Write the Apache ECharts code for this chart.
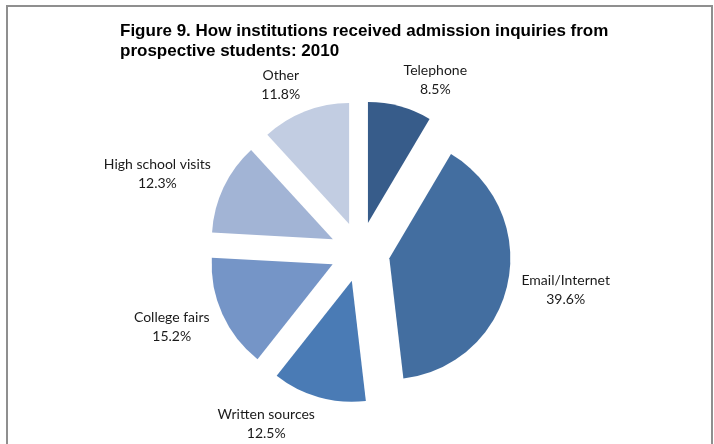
<!DOCTYPE html>
<html>
<head>
<meta charset="utf-8">
<script src="https://cdn.jsdelivr.net/npm/echarts@6/dist/echarts.min.js"></script>
<style>
html,body{margin:0;padding:0;background:#fff;}
#chart{width:714px;height:444px;}
</style>
</head>
<body>
<div id="chart"></div>
<script>
const categories = ['Telephone', 'Email/Internet', 'Written sources', 'College fairs', 'High school visits', 'Other'];
const values = [8.5, 39.6, 12.5, 15.2, 12.3, 11.8];
const colors = ['#375C8A', '#436EA0', '#4A7BB5', '#7595C7', '#A2B4D5', '#C2CDE2'];
const titleText = 'Figure 9. How institutions received admission inquiries from\nprospective students: 2010';

const CX = 360, CY = 252, R = 121, OFF = 30, GAP_X = 14, GAP_Y = 8;
const total = values.reduce((a, b) => a + b, 0);
const midDirs = [];
let acc = 0;
values.forEach(v => {
  const mid = (acc + v / 2) / total * Math.PI * 2;
  midDirs.push([Math.sin(mid), -Math.cos(mid)]);
  acc += v;
});

const chart = echarts.init(document.getElementById('chart'), null, {renderer: 'canvas'});
chart.setOption({
  animation: false,
  backgroundColor: '#fff',
  title: {
    text: titleText,
    left: 115,
    top: 16,
    textStyle: {fontFamily: 'Liberation Sans, Arial, sans-serif', fontWeight: 'bold', fontSize: 17, lineHeight: 20, color: '#000'}
  },
  graphic: [{
    type: 'polyline',
    shape: {points: [[7, 444], [7, 6], [712, 6], [712, 444]]},
    style: {stroke: '#8f8f8f', lineWidth: 2, fill: null},
    silent: true
  }],
  series: [{
    type: 'pie',
    center: [CX, CY],
    radius: R,
    startAngle: 90,
    clockwise: true,
    selectedMode: 'multiple',
    selectedOffset: OFF,
    emphasis: {disabled: true},
    itemStyle: {borderWidth: 0},
    label: {show: false},
    labelLine: {show: false},
    data: categories.map((c, i) => ({name: c, value: values[i], selected: true, itemStyle: {color: colors[i]}}))
  }, {
    type: 'pie',
    center: [CX, CY],
    radius: R,
    startAngle: 90,
    clockwise: true,
    silent: true,
    selectedMode: false,
    avoidLabelOverlap: false,
    emphasis: {disabled: true},
    itemStyle: {color: 'rgba(0,0,0,0)', borderWidth: 0},
    label: {
      show: true,
      position: 'outside',
      formatter: '{b}\n{c}%',
      fontFamily: 'Lato, sans-serif',
      fontSize: 14,
      lineHeight: 19,
      color: '#1a1a1a'
    },
    labelLine: {show: false},
    labelLayout: function (p) {
      const d = midDirs[p.dataIndex];
      const w = p.labelRect.width, h = p.labelRect.height;
      const fx = Math.sign(d[0]) * Math.min(1, 4 * Math.abs(d[0]));
      const fy = Math.sign(d[1]) * Math.min(1, 1.2 * Math.abs(d[1]));
      return {
        x: CX + d[0] * (OFF + R + GAP_X) + fx * w / 2,
        y: CY + d[1] * (OFF + R + GAP_Y) + fy * h / 2,
        align: 'center',
        verticalAlign: 'middle'
      };
    },
    data: categories.map((c, i) => ({name: c, value: values[i]}))
  }]
});
</script>
</body>
</html>
